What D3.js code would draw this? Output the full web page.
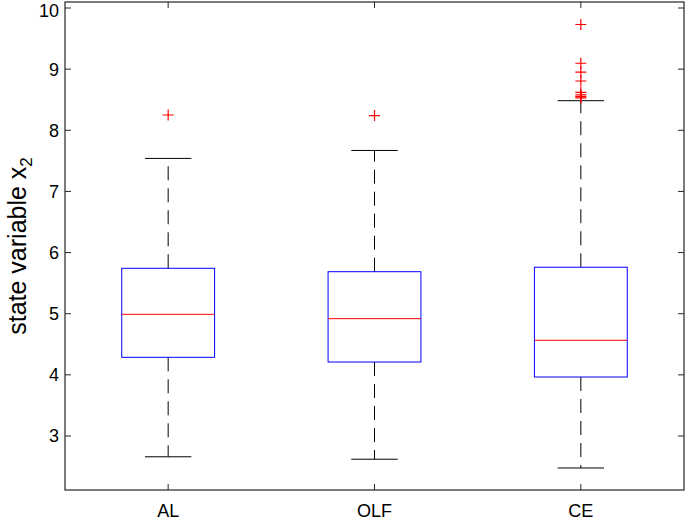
<!DOCTYPE html>
<html><head><meta charset="utf-8">
<script src="https://cdn.jsdelivr.net/npm/d3@7"></script>
<style>body{margin:0;background:#fff}text{font-family:"Liberation Sans",Arial,sans-serif}</style>
</head><body>
<svg id="c" width="685" height="524"></svg>
<script>
const categories = ["AL", "OLF", "CE"];
const q1 = [4.287, 4.21, 3.965];
const medians = [4.99, 4.919, 4.565];
const q3 = [5.743, 5.687, 5.76];
const lowerWhisker = [2.66, 2.62, 2.477];
const upperWhisker = [7.54, 7.67, 8.484];
const outliers = [[8.25], [8.24], [9.73, 9.096, 8.95, 8.806, 8.62, 8.58, 8.55, 8.53]];
const yTicks = [3, 4, 5, 6, 7, 8, 9, 10];

const svg = d3.select("#c");
const L = 65, R = 684, T = 2, B = 490;
const x = d3.scaleLinear().domain([0.5, 3.5]).range([L, R]);
const y = d3.scaleLinear().domain([3, 10]).range([436, 8]);

const g = svg.append("g");
const boxW = 0.45, capW = 0.225;

categories.forEach((c, i) => {
  const cx = x(i + 1);
  const hb = (x(1 + boxW / 2) - x(1));
  const hc = (x(1 + capW / 2) - x(1));
  g.append("line").attr("x1", cx).attr("x2", cx).attr("y1", y(q3[i])).attr("y2", y(upperWhisker[i]))
    .attr("stroke", "#000").attr("stroke-dasharray", "14,8");
  g.append("line").attr("x1", cx).attr("x2", cx).attr("y1", y(q1[i])).attr("y2", y(lowerWhisker[i]))
    .attr("stroke", "#000").attr("stroke-dasharray", "14,8");
  [upperWhisker[i], lowerWhisker[i]].forEach(v => {
    g.append("line").attr("x1", cx - hc).attr("x2", cx + hc).attr("y1", y(v)).attr("y2", y(v))
      .attr("stroke", "#000");
  });
  g.append("rect").attr("x", cx - hb).attr("width", 2 * hb)
    .attr("y", y(q3[i])).attr("height", y(q1[i]) - y(q3[i]))
    .attr("fill", "none").attr("stroke", "#0000ff");
  g.append("line").attr("x1", cx - hb).attr("x2", cx + hb).attr("y1", y(medians[i])).attr("y2", y(medians[i]))
    .attr("stroke", "#ff0000");
  outliers[i].forEach(v => {
    const py = y(v);
    g.append("path").attr("d", `M${cx - 5.5},${py}H${cx + 5.5}M${cx},${py - 5.5}V${py + 5.5}`)
      .attr("stroke", "#ff0000").attr("stroke-width", 1.2).attr("fill", "none");
  });
});

const ax = svg.append("g");
ax.append("rect").attr("x", L).attr("y", T).attr("width", R - L).attr("height", B - T)
  .attr("fill", "none").attr("stroke", "#262626").attr("stroke-width", 1.2);

yTicks.forEach(t => {
  const py = y(t);
  ax.append("line").attr("x1", L).attr("x2", L + 6).attr("y1", py).attr("y2", py).attr("stroke", "#262626");
  ax.append("line").attr("x1", R - 6).attr("x2", R).attr("y1", py).attr("y2", py).attr("stroke", "#262626");
  ax.append("text").attr("x", L - 6).attr("y", Math.max(py, 11)).attr("dy", "0.36em").attr("text-anchor", "end")
    .attr("font-size", 18).attr("fill", "#000").text(t);
});
categories.forEach((c, i) => {
  const px = x(i + 1);
  ax.append("line").attr("x1", px).attr("x2", px).attr("y1", B).attr("y2", B - 6).attr("stroke", "#262626");
  ax.append("line").attr("x1", px).attr("x2", px).attr("y1", T).attr("y2", T + 6).attr("stroke", "#262626");
  ax.append("text").attr("x", px).attr("y", 511).attr("dy", "0.36em").attr("text-anchor", "middle")
    .attr("font-size", 18).attr("fill", "#000").text(c);
});

const lab = svg.append("text").attr("transform", "translate(26,246) rotate(-90)")
  .attr("text-anchor", "middle").attr("font-size", 25).attr("fill", "#000");
lab.append("tspan").text("state variable x");
lab.append("tspan").attr("font-size", 17).attr("dy", 6).text("2");
</script>
</body></html>
